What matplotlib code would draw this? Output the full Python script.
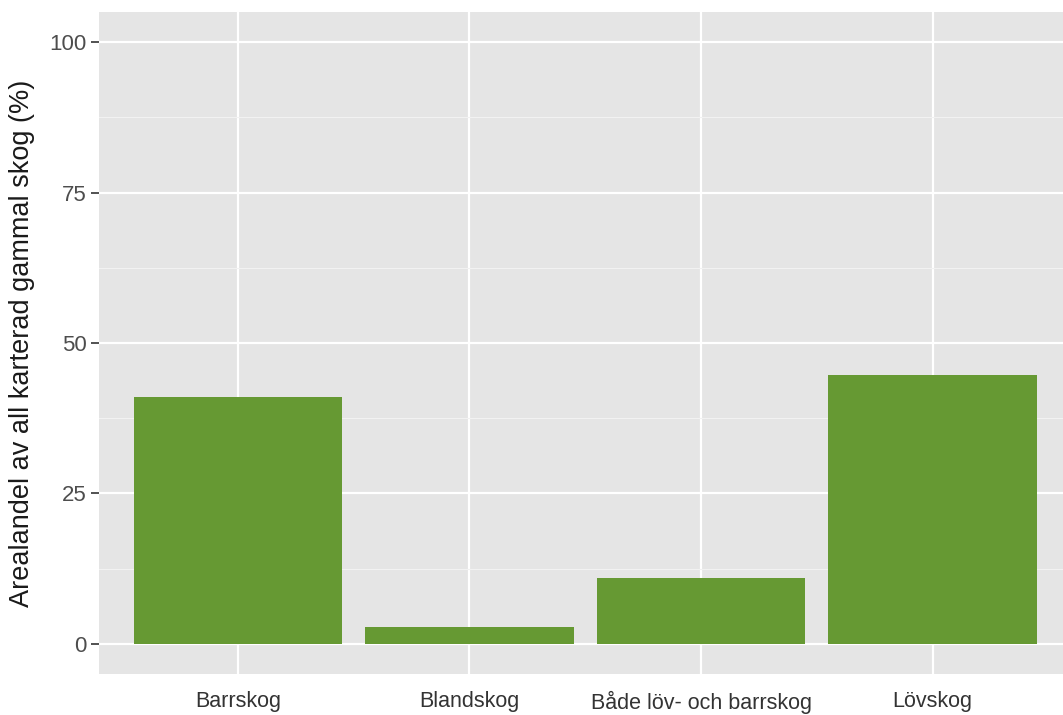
import matplotlib.pyplot as plt
import numpy as np

# data
kategorier = ["Barrskog", "Blandskog", "Både löv- och barrskog", "Lövskog"]
andel = [41.0, 2.8, 11.0, 44.7]
y_ticks = [0, 25, 50, 75, 100]
y_label = "Arealandel av all karterad gammal skog (%)"

plt.rcParams['font.family'] = ['Liberation Sans', 'DejaVu Sans']

fig = plt.figure(figsize=(10.63, 7.15), dpi=100)
ax = fig.add_axes([0.0931, 0.0573, 0.915, 0.926])
ax.set_facecolor("#e5e5e5")

x = np.arange(1, len(kategorier) + 1)
ax.bar(x, andel, width=0.9, color="#669933", zorder=3)

ax.set_xlim(0.4, 4.6)
ax.set_ylim(-5, 105)
ax.set_yticks(y_ticks)
ax.set_yticks([12.5, 37.5, 62.5, 87.5], minor=True)
ax.set_xticks(x)
ax.set_xticklabels(kategorier)

ax.grid(which="major", color="white", linewidth=1.6, zorder=1)
ax.grid(which="minor", axis="y", color="#f2f2f2", linewidth=0.8, zorder=1)

for s in ax.spines.values():
    s.set_visible(False)

ax.tick_params(axis="y", which="major", length=6, width=1.2, color="#333333",
               labelsize=16, labelcolor="#4d4d4d", pad=3)
ax.tick_params(axis="x", which="major", length=0, labelsize=15.5,
               labelcolor="#333333", pad=12)
ax.tick_params(which="minor", length=0)

ax.set_ylabel(y_label, fontsize=19.5, color="#1a1a1a", labelpad=10)

fig.savefig("out.png", dpi=100)
